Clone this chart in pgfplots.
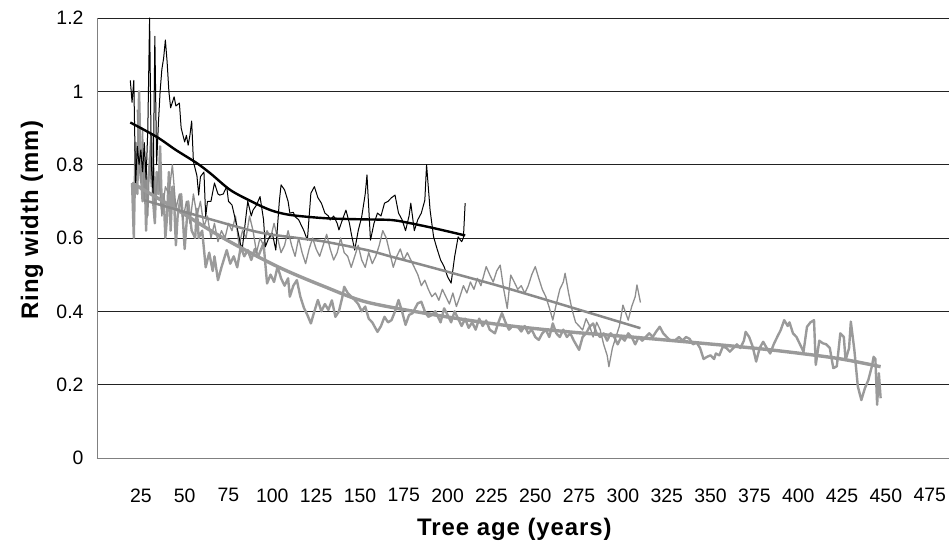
\documentclass[border=0pt]{standalone}
\usepackage{pgfplots}
\pgfplotsset{compat=1.18}
\usepackage{fontspec}
\setmainfont{Liberation Sans}
\newfontfamily\labfont[LetterSpace=4]{Liberation Sans}
\definecolor{gthick}{HTML}{9A9A9A}
\definecolor{gthin}{HTML}{8E8E8E}
\definecolor{gtrend}{HTML}{8A8A8A}
\definecolor{gridc}{HTML}{222222}
\definecolor{axc}{HTML}{808080}

\begin{document}
\begin{tikzpicture}
\useasboundingbox (-97bp,-83bp) rectangle (852bp,458bp);
\begin{axis}[
    at={(0,0)}, anchor=south west,
    width=852bp, height=440bp, scale only axis,
    xmin=0, xmax=486, ymin=0, ymax=1.2,
    axis lines=left, axis line style={-, axc, line width=0.9bp},
    xtick={25,50,...,475}, ytick={0,0.2,...,1.2},
    major tick length=0pt,
    ymajorgrids, grid style={gridc, line width=0.8bp},
    /pgf/number format/assume math mode=true,
    ticklabel style={font=\fontsize{19.5}{22}\selectfont},
    xticklabel style={yshift=-27bp},
    yticklabel style={xshift=-10bp},
    xlabel={Tree age (years)}, ylabel={Ring width (mm)},
    label style={font=\labfont\fontsize{24}{27}\selectfont\bfseries},
    xlabel style={at={(axis description cs:0.49,0)}, anchor=center, yshift=-71bp},
    ylabel style={at={(axis description cs:0,0.54)}, anchor=center, yshift=65bp},
    clip=false,
]
% thick grey series
\addplot[gthick, line width=2.4bp, line join=round] coordinates {
(20,0.75)(21,0.60)(22,0.86)(23,0.72)(24,1.0)(25,0.78)(26,0.70)(27,0.82)(28,0.62)(29,0.75)
(30,0.80)(31,0.88)(32,0.70)(33,0.64)(34,0.78)(35,0.72)(36,0.85)(37,0.68)(38,0.72)(39,0.60)
(40,0.66)(41,0.78)(42,0.62)(43,0.74)(44,0.70)(45,0.58)(46,0.66)(48,0.72)(49,0.65)(50,0.57)
(52,0.70)(54,0.62)(56,0.60)(57,0.68)(58,0.60)(60,0.62)(62,0.52)(64,0.56)(66,0.51)(67,0.55)
(69,0.485)(71,0.52)(74,0.567)(76,0.53)(78,0.55)(80,0.52)(82,0.576)(84,0.55)(86,0.567)(88,0.54)
(90,0.57)(92,0.55)(95,0.586)(97,0.476)(99,0.50)(101,0.48)(103,0.522)(105,0.49)(107,0.47)(109,0.49)
(110,0.44)(112,0.47)(114,0.485)(116,0.44)(118,0.41)(120,0.39)(122,0.367)(124,0.40)(126,0.431)(128,0.40)
(130,0.42)(132,0.404)(134,0.43)(136,0.385)(138,0.40)(140,0.44)(141,0.467)(143,0.45)(145,0.44)(147,0.431)
(149,0.42)(151,0.40)(153,0.413)(155,0.38)(157,0.37)(160,0.344)(162,0.36)(164,0.385)(166,0.37)(168,0.376)
(170,0.40)(172,0.431)(174,0.40)(176,0.363)(178,0.39)(180,0.395)(183,0.422)(185,0.426)(187,0.40)(189,0.385)
(191,0.39)(193,0.40)(196,0.37)(198,0.408)(200,0.39)(202,0.37)(204,0.40)(206,0.38)(208,0.36)(210,0.38)
(212,0.355)(214,0.37)(216,0.35)(218,0.38)(220,0.36)(222,0.375)(224,0.35)(227,0.34)(229,0.37)(231,0.395)
(233,0.37)(235,0.35)(237,0.36)(240,0.358)(242,0.345)(244,0.36)(246,0.34)(248,0.35)(250,0.33)(252,0.322)
(254,0.34)(256,0.35)(258,0.33)(260,0.367)(262,0.34)(264,0.33)(266,0.35)(268,0.33)(270,0.34)(272,0.32)
(275,0.295)(277,0.33)(279,0.34)(281,0.358)(283,0.367)(285,0.34)(287,0.33)(289,0.34)(291,0.32)(293,0.34)
(295,0.33)(297,0.31)(299,0.33)(301,0.32)(303,0.34)(305,0.33)(307,0.31)(309,0.33)(311,0.32)(313,0.33)
(315,0.34)(317,0.33)(319,0.345)(321,0.358)(323,0.34)(325,0.33)(327,0.32)(330,0.322)(332,0.33)(334,0.32)
(336,0.33)(338,0.325)(340,0.31)(342,0.315)(344,0.30)(346,0.27)(348,0.276)(350,0.28)(352,0.27)(353,0.285)
(355,0.28)(357,0.304)(359,0.30)(361,0.29)(363,0.30)(365,0.31)(367,0.30)(369,0.32)(370,0.344)(372,0.33)
(374,0.304)(376,0.263)(378,0.30)(380,0.317)(382,0.30)(384,0.285)(386,0.31)(388,0.33)(390,0.349)(392,0.376)
(394,0.36)(395,0.37)(397,0.34)(399,0.33)(401,0.31)(403,0.29)(405,0.358)(407,0.37)(409,0.376)(410,0.254)
(412,0.32)(414,0.313)(416,0.31)(418,0.30)(420,0.245)(422,0.25)(424,0.34)(426,0.33)(427,0.267)(429,0.30)
(430,0.372)(432,0.295)(434,0.195)(436,0.158)(438,0.19)(440,0.213)(442,0.25)(443,0.276)(444,0.27)(445,0.145)
(446,0.231)(447,0.163)
};
% thin grey series
\addplot[gthin, line width=1.3bp, line join=round] coordinates {
(23,0.95)(24,0.80)(25,0.75)(26,0.90)(27,0.70)(28,0.78)(29,0.66)(30,0.82)(31,0.74)(32,0.86)
(33,0.70)(35,0.78)(37,0.66)(39,0.74)(41,0.72)(43,0.80)(45,0.68)(47,0.72)(49,0.65)(51,0.70)
(53,0.64)(55,0.72)(57,0.66)(59,0.70)(61,0.63)(63,0.66)(65,0.60)(67,0.64)(69,0.59)(71,0.62)
(73,0.60)(75,0.64)(77,0.62)(79,0.66)(81,0.58)(83,0.62)(85,0.60)(87,0.66)(89,0.62)(91,0.56)
(93,0.60)(95,0.58)(97,0.62)(99,0.60)(101,0.64)(103,0.60)(105,0.56)(107,0.58)(109,0.62)(111,0.58)
(113,0.55)(115,0.60)(117,0.56)(119,0.53)(121,0.57)(123,0.60)(125,0.57)(127,0.55)(129,0.58)(131,0.61)
(133,0.57)(135,0.54)(137,0.56)(139,0.60)(141,0.56)(143,0.55)(145,0.52)(147,0.55)(149,0.58)(151,0.54)
(153,0.52)(155,0.56)(157,0.53)(159,0.55)(161,0.58)(163,0.62)(165,0.60)(167,0.56)(169,0.52)(171,0.55)
(173,0.57)(175,0.54)(177,0.56)(179,0.54)(181,0.52)(183,0.50)(185,0.47)(187,0.485)(189,0.46)(191,0.44)
(193,0.45)(195,0.43)(197,0.46)(199,0.44)(201,0.42)(203,0.45)(205,0.413)(207,0.44)(209,0.47)(211,0.45)
(213,0.48)(215,0.46)(217,0.49)(219,0.47)(222,0.522)(224,0.50)(226,0.48)(228,0.51)(230,0.526)(232,0.46)
(234,0.408)(236,0.499)(238,0.48)(240,0.46)(242,0.47)(244,0.449)(246,0.47)(248,0.50)(250,0.522)(252,0.49)
(254,0.46)(256,0.44)(258,0.41)(260,0.376)(262,0.42)(264,0.46)(266,0.48)(267,0.504)(269,0.45)(271,0.404)
(273,0.37)(275,0.36)(277,0.349)(279,0.38)(281,0.36)(283,0.33)(285,0.37)(287,0.35)(289,0.31)(291,0.28)
(292,0.249)(294,0.30)(296,0.33)(298,0.36)(300,0.417)(302,0.39)(303,0.376)(305,0.413)(307,0.44)(308,0.472)
(310,0.424)
};
% black series
\addplot[black, line width=1.0bp, line join=round] coordinates {
(19,1.03)(20,0.97)(21,1.03)(22,0.745)(23,0.85)(24,0.80)(25,0.84)(26,0.78)(27,0.86)(28,0.76)
(29,0.90)(30,1.2)(31,0.80)(32,0.72)(33,1.15)(34,0.80)(35,0.91)(36,1.0)(37,1.06)(38,1.09)
(39,1.14)(40,1.08)(41,1.00)(42,0.955)(43,0.97)(44,0.985)(45,0.96)(47,0.968)(48,0.90)(50,0.862)
(51,0.88)(52,0.853)(53,0.88)(54,0.919)(55,0.808)(57,0.77)(58,0.717)(59,0.767)(61,0.78)(62,0.658)
(63,0.70)(65,0.70)(67,0.75)(69,0.72)(70,0.717)(72,0.72)(74,0.74)(75,0.70)(77,0.69)(79,0.649)
(80,0.627)(82,0.58)(83,0.576)(85,0.66)(86,0.70)(88,0.66)(89,0.676)(91,0.69)(93,0.713)(95,0.65)
(96,0.576)(98,0.60)(100,0.613)(102,0.567)(104,0.70)(105,0.745)(107,0.731)(109,0.70)(110,0.668)(112,0.67)
(113,0.658)(115,0.65)(116,0.64)(118,0.62)(120,0.594)(122,0.722)(124,0.74)(126,0.71)(128,0.695)(130,0.668)
(132,0.66)(133,0.649)(135,0.66)(137,0.64)(138,0.622)(140,0.65)(142,0.676)(144,0.64)(145,0.613)(147,0.567)
(149,0.62)(151,0.658)(153,0.72)(154,0.772)(156,0.594)(158,0.64)(160,0.668)(162,0.66)(164,0.695)(166,0.70)
(168,0.71)(170,0.717)(172,0.668)(174,0.65)(176,0.62)(178,0.66)(179,0.695)(181,0.62)(183,0.65)(185,0.668)
(187,0.703)(188,0.80)(190,0.676)(192,0.603)(194,0.57)(196,0.54)(198,0.522)(200,0.494)(202,0.477)(204,0.549)
(206,0.603)(208,0.59)(209,0.60)(210,0.695)
};
% trends
\addplot[gthick, line width=3.4bp, smooth] coordinates {
(20,0.75)(43,0.685)(72,0.60)(103,0.522)(130,0.467)(154,0.425)(193,0.39)(231,0.363)(269,0.344)
(300,0.332)(345,0.313)(384,0.295)(422,0.272)(447,0.249)
};
\addplot[gtrend, line width=2.5bp, smooth] coordinates {
(27,0.703)(53,0.667)(91,0.617)(116,0.599)(130,0.59)(154,0.567)(168,0.549)(193,0.517)(231,0.467)
(269,0.413)(310,0.354)
};
\addplot[black, line width=2.4bp, smooth] coordinates {
(19,0.915)(34,0.876)(45,0.84)(57,0.804)(65,0.775)(76,0.731)(88,0.70)(99,0.676)(110,0.663)
(130,0.654)(150,0.651)(168,0.649)(179,0.64)(192,0.627)(210,0.607)
};
\end{axis}
\end{tikzpicture}
\end{document}
